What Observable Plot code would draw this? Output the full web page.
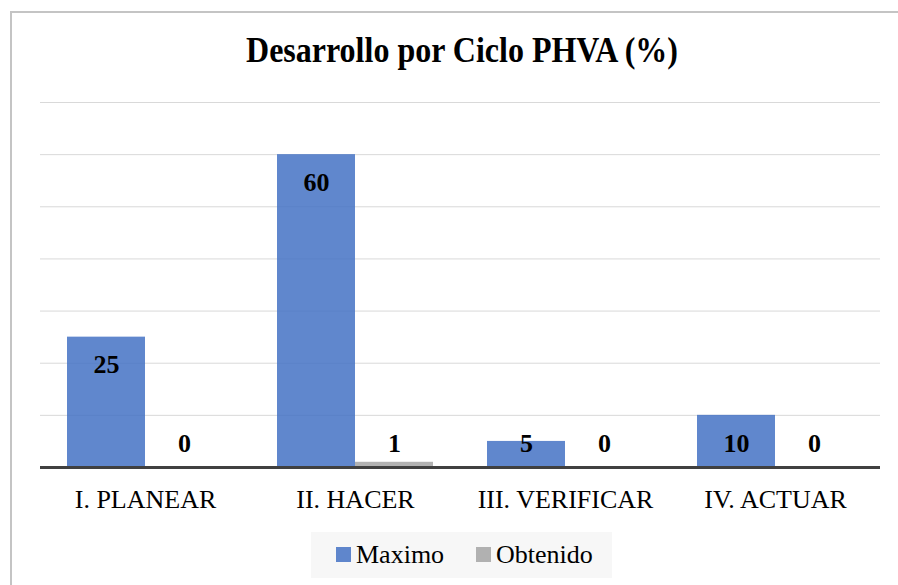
<!DOCTYPE html>
<html>
<head>
<meta charset="utf-8">
<script src="https://cdn.jsdelivr.net/npm/d3@7"></script>
<script src="https://cdn.jsdelivr.net/npm/@observablehq/plot@0.6"></script>
<style>
  html, body { margin: 0; padding: 0; background: #fff; }
  body { width: 898px; height: 585px; position: relative; overflow: hidden; font-family: "Liberation Serif", "Times New Roman", serif; }
  #frame { position: absolute; left: 10px; top: 11px; width: 900px; height: 600px; border-left: 2px solid #c4c4c4; border-top: 2px solid #c4c4c4; box-sizing: border-box; }
  #title { position: absolute; left: 0; width: 924px; top: 30px; text-align: center; font-family: "Liberation Serif", "Times New Roman", serif; font-weight: bold; font-size: 32px; line-height: 36px; color: #000; transform: scaleY(1.1); transform-origin: center top; }
  #chart { position: absolute; left: 0; top: 80px; }
  #legend { position: absolute; left: 311px; top: 532px; width: 301px; height: 46px; background: #f7f7f7; font-family: "Liberation Serif", "Times New Roman", serif; font-size: 26px; color: #000; }
  .item { position: absolute; top: 8px; line-height: 30px; white-space: nowrap; font-family: "Liberation Serif", "Times New Roman", serif; }
  .sw { display: inline-block; width: 15px; height: 15px; margin-right: 5px; vertical-align: 1px; }
</style>
</head>
<body>
<div id="frame"></div>
<div id="title">Desarrollo por Ciclo PHVA (%)</div>
<div id="chart"></div>
<div id="legend"></div>
<script>
const categories = ["I. PLANEAR", "II. HACER", "III. VERIFICAR", "IV. ACTUAR"];
const seriesNames = ["Maximo", "Obtenido"];
const maximo = [25, 60, 5, 10];
const obtenido = [0, 1, 0, 0];
const gridTicks = [10, 20, 30, 40, 50, 60, 70];
const colors = ["#4472C4", "#A5A5A5"];

const rows = [];
categories.forEach((c, i) => {
  rows.push({cat: c, series: seriesNames[0], value: maximo[i]});
  rows.push({cat: c, series: seriesNames[1], value: obtenido[i]});
});

const chart = Plot.plot({
  width: 898,
  height: 440,
  marginLeft: 40,
  marginRight: 18,
  marginTop: 22,
  marginBottom: 53,
  style: {fontFamily: "'Liberation Serif', 'Times New Roman', serif", fontSize: "26px", background: "transparent", color: "#000"},
  fx: {domain: categories, padding: 0, label: null},
  x: {domain: seriesNames, paddingInner: 0, paddingOuter: 0.33, axis: null},
  y: {domain: [0, 70], axis: null},
  color: {domain: seriesNames, range: colors},
  marks: [
    Plot.ruleY(gridTicks, {stroke: "#d9d9d9", strokeWidth: 1}),
    Plot.barY(rows, {fx: "cat", x: "series", y: "value", fill: "series", fillOpacity: 0.85}),
    Plot.ruleY([0], {stroke: "#404040", strokeWidth: 3}),
    Plot.text(rows, {fx: "cat", x: "series", y: d => Math.max(d.value, 10), dy: 28,
      text: d => String(d.value), fontSize: 26, fontWeight: "bold", fill: "#000"}),
    Plot.axisFx({anchor: "bottom", tickSize: 0, tickPadding: 22, fontSize: 26, label: null, fill: "#000"})
  ]
});
document.getElementById("chart").appendChild(chart);

const legend = document.getElementById("legend");
const lx = [25, 165];
seriesNames.forEach((s, i) => {
  const it = document.createElement("div");
  it.className = "item";
  it.style.left = lx[i] + "px";
  const sw = document.createElement("span");
  sw.className = "sw";
  sw.style.background = colors[i];
  sw.style.opacity = 0.85;
  it.appendChild(sw);
  it.appendChild(document.createTextNode(s));
  legend.appendChild(it);
});
</script>
</body>
</html>
